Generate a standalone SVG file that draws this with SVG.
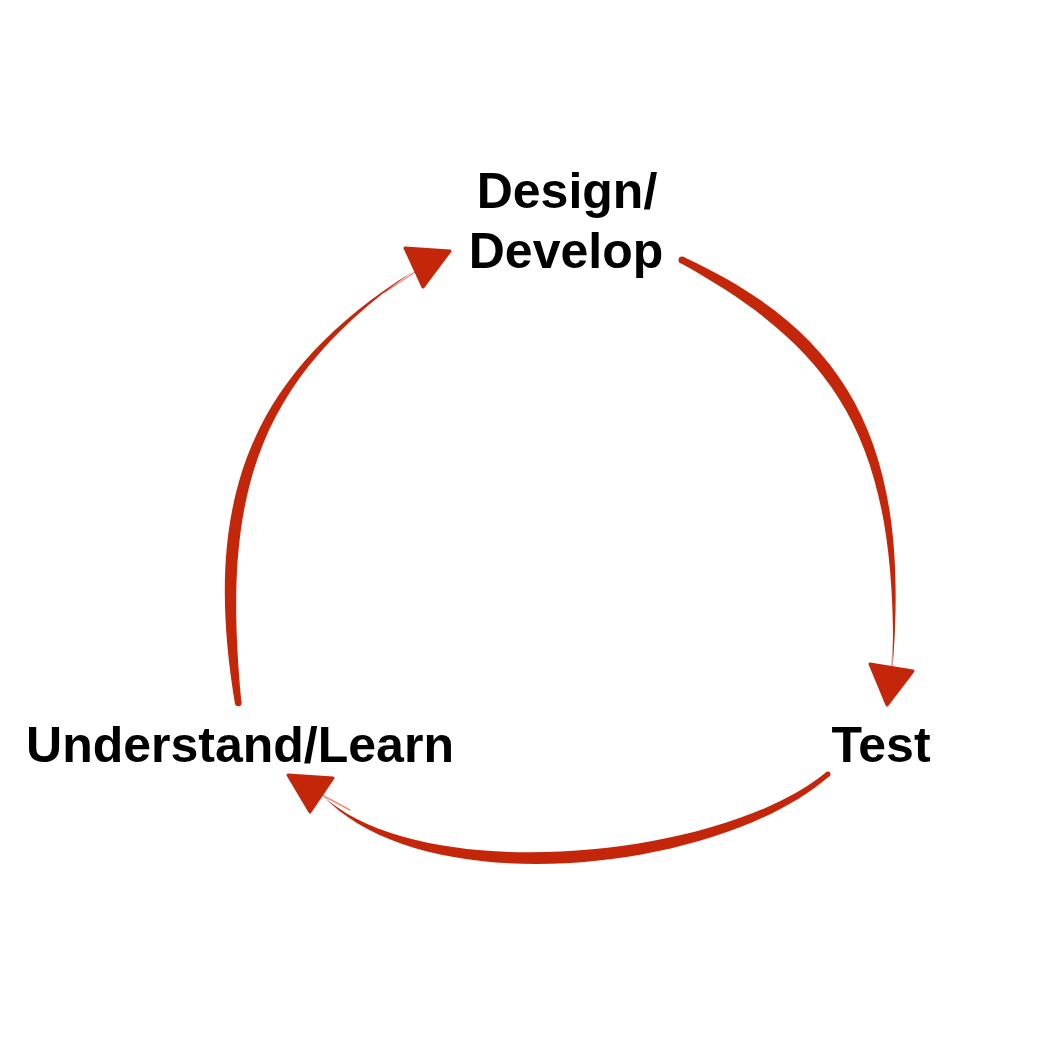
<svg xmlns="http://www.w3.org/2000/svg" width="1043" height="1043" viewBox="0 0 1043 1043">
  <style>
    .label { font-family: "Liberation Sans", Arial, Helvetica, sans-serif; font-weight: bold; font-size: 50px; fill: #000; text-anchor: middle; }
    .stroke { fill: #C4260A; }
    .wisp { fill: none; stroke: #C4260A; stroke-width: 1.5; stroke-linecap: round; opacity: 0.5; }
    .head { fill: #C4260A; stroke: #C4260A; stroke-width: 3; stroke-linejoin: round; }
  </style>
  <rect width="1043" height="1043" fill="#fff"/>

  <g id="connectors">
    <!-- Design/Develop -> Test: brush stroke, thick near the start, tapering into the head -->
    <g id="edge-design-test">
      <path class="stroke" d="M683.6,256.9 C846.5,332.1 910,440.3 893,662 C896,439.6 837.5,349.9 680.4,263.1 Z"/>
      <circle class="stroke" cx="682" cy="260" r="3.5"/>
      <path class="wisp" d="M894,630 L892,666"/>
      <polygon class="head" points="870,664 913,671 887,705"/>
    </g>
    <!-- Test -> Understand/Learn -->
    <g id="edge-test-understand">
      <path class="stroke" d="M829.6,775.9 C720,872 425,905 322,795 C420,887 720,860 826.4,772.1 Z"/>
      <circle class="stroke" cx="828" cy="774" r="2.5"/>
      <path class="wisp" d="M350,810 L322,795"/>
      <polygon class="head" points="288,775 333,778 310,812"/>
    </g>
    <!-- Understand/Learn -> Design/Develop -->
    <g id="edge-understand-design">
      <path class="stroke" d="M235,704 C202.7,508.3 243.3,377.9 412,272 C248.8,386.1 222.5,505.7 241.5,703 Z"/>
      <circle class="stroke" cx="238.3" cy="703" r="3.2"/>
      <path class="wisp" d="M385,292 L418,270"/>
      <polygon class="head" points="405,248 450,251 423,287"/>
    </g>
  </g>

  <g id="node-design">
    <text class="label" x="567" y="208">Design/</text>
    <text class="label" x="566" y="268">Develop</text>
  </g>
  <g id="node-test">
    <text class="label" x="881" y="762">Test</text>
  </g>
  <g id="node-understand">
    <text class="label" x="240" y="762">Understand/Learn</text>
  </g>
</svg>
